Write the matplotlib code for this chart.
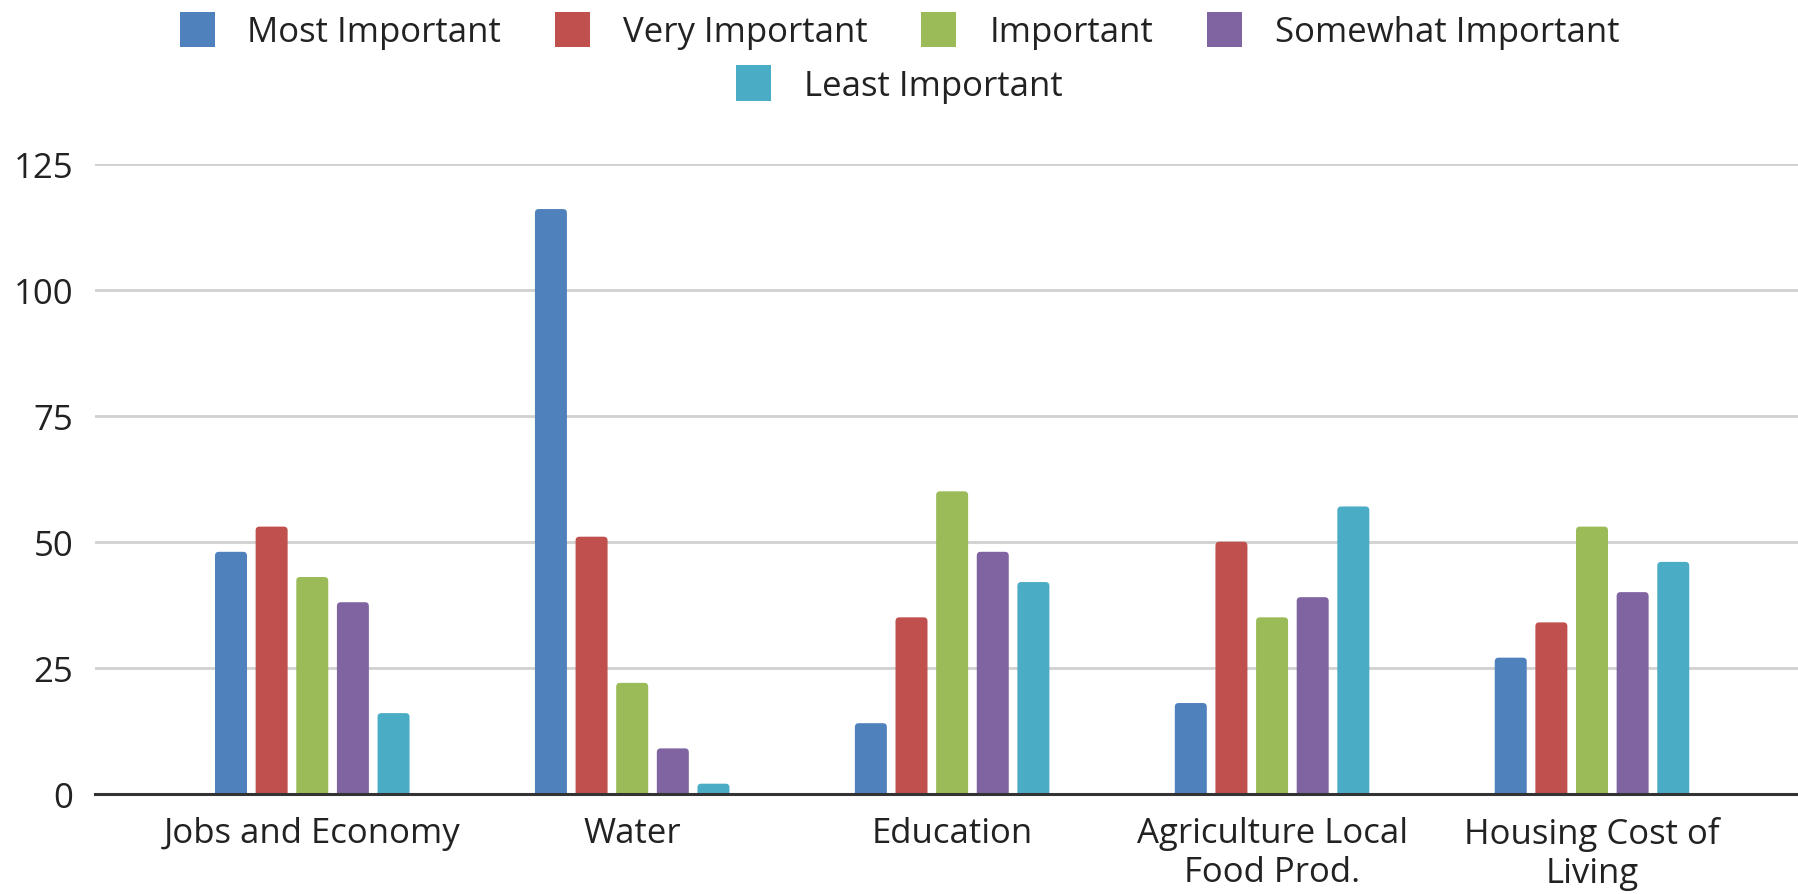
import numpy as np
import matplotlib
matplotlib.use('Agg')
import matplotlib.pyplot as plt
from matplotlib.patches import FancyBboxPatch, Patch

plt.rcParams['font.family'] = ['Open Sans', 'DejaVu Sans']

categories = ['Jobs and Economy', 'Water', 'Education',
              'Agriculture Local\nFood Prod.', 'Housing Cost of\nLiving']
series = ['Most Important', 'Very Important', 'Important',
          'Somewhat Important', 'Least Important']
most_important = [48, 116, 14, 18, 27]
very_important = [53, 51, 35, 50, 34]
important = [43, 22, 60, 35, 53]
somewhat_important = [38, 9, 48, 39, 40]
least_important = [16, 2, 42, 57, 46]
values = [most_important, very_important, important,
          somewhat_important, least_important]
colors = ['#4F81BD', '#C0504D', '#9BBB59', '#8064A2', '#4BACC6']
yticks = [0, 25, 50, 75, 100, 125]

fig = plt.figure(figsize=(17.99, 8.95), dpi=100)
ax = fig.add_axes([0.053, 0.112, 0.947, 0.704])

x = np.arange(len(categories))
pitch = 0.127
width = 0.1
ax.set_xlim(-0.678, 4.647)
ax.set_ylim(0, 125)

for i, (vals, c) in enumerate(zip(values, colors)):
    bars = ax.bar(x + (i - 2) * pitch, vals, width, color=c, zorder=3)
    for b in bars:
        b.set_visible(False)
        r = FancyBboxPatch((b.get_x(), -2), b.get_width(), b.get_height() + 2,
                           boxstyle='round,pad=0,rounding_size=0.012',
                           mutation_aspect=65, facecolor=c, edgecolor='none',
                           zorder=3)
        ax.add_patch(r)

ax.set_yticks(yticks)
ax.set_xticks(x)
ax.set_xticklabels(categories, linespacing=1.2)
ax.tick_params(axis='both', length=0, labelsize=25, colors='#222222')
ax.tick_params(axis='y', pad=16)
ax.tick_params(axis='x', pad=16)
ax.grid(axis='y', color='#D0D0D0', linewidth=2, zorder=0)
for s in ['top', 'right', 'left']:
    ax.spines[s].set_visible(False)
ax.spines['bottom'].set_color('#333333')
ax.spines['bottom'].set_linewidth(2.2)
ax.spines['bottom'].set_zorder(4)

handles = [Patch(facecolor=c, edgecolor='none') for c in colors]
leg1 = fig.legend(handles[:4], series[:4], loc='center', ncol=4,
                  bbox_to_anchor=(0.5, 0.965), frameon=False, fontsize=25,
                  handlelength=1.0, handleheight=1.2, handletextpad=0.95,
                  columnspacing=1.55)
leg2 = fig.legend(handles[4:], series[4:], loc='center',
                  bbox_to_anchor=(0.5, 0.905), frameon=False, fontsize=25,
                  handlelength=1.0, handleheight=1.2, handletextpad=0.95)
for leg in (leg1, leg2):
    for t in leg.get_texts():
        t.set_color('#222222')

fig.savefig('out.png', dpi=100)
